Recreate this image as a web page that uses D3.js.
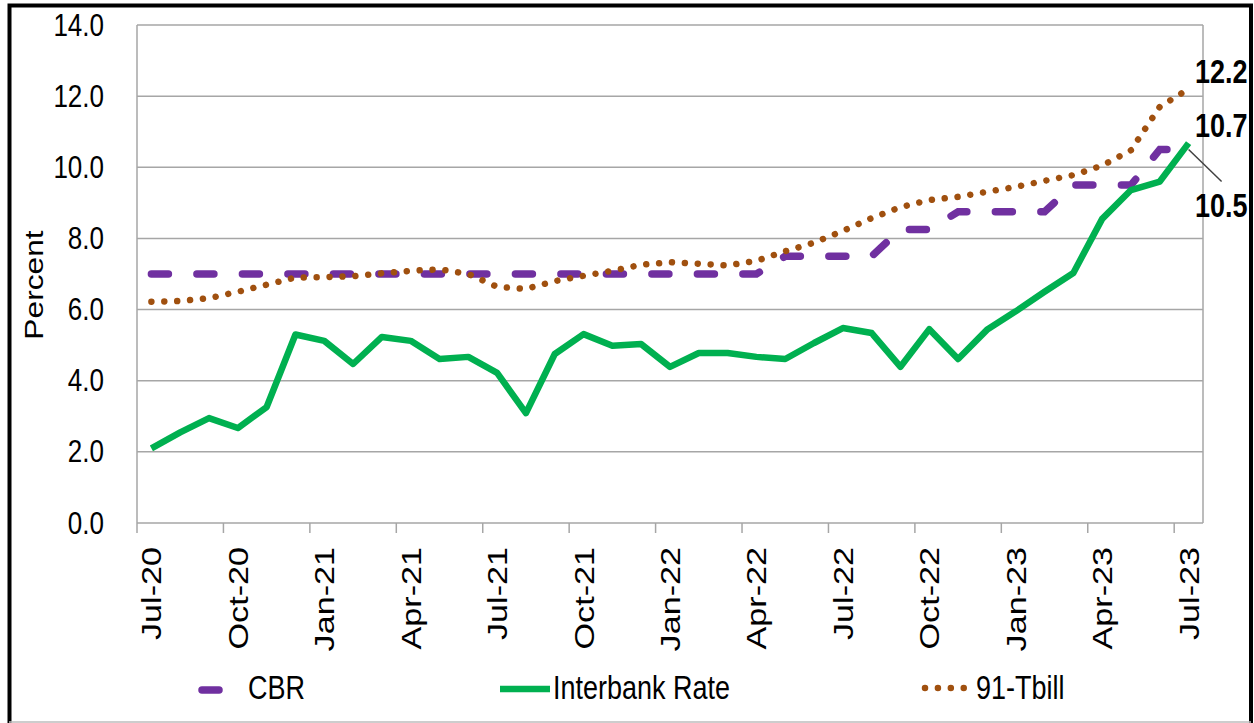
<!DOCTYPE html>
<html>
<head>
<meta charset="utf-8">
<script src="https://cdn.jsdelivr.net/npm/d3@7"></script>
<style>
  body { margin: 0; background: #fff; }
  svg { display: block; font-family: "Liberation Sans", Arial, sans-serif; }
</style>
</head>
<body>
<div id="chart"></div>
<script>
// months on the category axis (Jul-20 .. Jul-23)
var months = ["Jul-20","Aug-20","Sep-20","Oct-20","Nov-20","Dec-20",
  "Jan-21","Feb-21","Mar-21","Apr-21","May-21","Jun-21","Jul-21","Aug-21","Sep-21","Oct-21","Nov-21","Dec-21",
  "Jan-22","Feb-22","Mar-22","Apr-22","May-22","Jun-22","Jul-22","Aug-22","Sep-22","Oct-22","Nov-22","Dec-22",
  "Jan-23","Feb-23","Mar-23","Apr-23","May-23","Jun-23","Jul-23"];

// only every third month gets a label
var tickLabels = ["Jul-20","Oct-20","Jan-21","Apr-21","Jul-21","Oct-21","Jan-22","Apr-22","Jul-22","Oct-22","Jan-23","Apr-23","Jul-23"];

var yTicks = [0, 2, 4, 6, 8, 10, 12, 14];

var cbr = [7.0, 7.0, 7.0, 7.0, 7.0, 7.0, 7.0, 7.0, 7.0, 7.0, 7.0, 7.0, 7.0, 7.0, 7.0, 7.0, 7.0, 7.0,
  7.0, 7.0, 7.0, 7.0, 7.5, 7.5, 7.5, 7.5, 8.25, 8.25, 8.75, 8.75, 8.75, 8.75, 9.5, 9.5, 9.5, 10.5, 10.5];

var interbank = [2.1, 2.55, 2.95, 2.67, 3.26, 5.3, 5.12, 4.47, 5.23, 5.12, 4.61, 4.67, 4.22, 3.09, 4.75, 5.31, 4.98, 5.03,
  4.39, 4.78, 4.78, 4.67, 4.61, 5.06, 5.48, 5.34, 4.39, 5.45, 4.61, 5.43, 5.95, 6.5, 7.03, 8.55, 9.36, 9.6, 10.68];

var tbill = [6.22, 6.24, 6.32, 6.5, 6.7, 6.9, 6.91, 6.94, 7.02, 7.09, 7.13, 7.0, 6.64, 6.58, 6.8, 6.95, 7.09, 7.26,
  7.33, 7.29, 7.24, 7.37, 7.64, 7.88, 8.21, 8.57, 8.88, 9.08, 9.17, 9.31, 9.45, 9.62, 9.78, 10.05, 10.48, 11.7, 12.2];

var seriesNames = ["CBR", "Interbank Rate", "91-Tbill"];

var W = 1254, H = 723;
// the source picture is stretched vertically, so text gets the same stretch
var stretch = 1.22;

var plot = { left: 137, right: 1203, top: 25, bottom: 523 };

var x = d3.scaleBand().domain(months).range([plot.left, plot.right]);
var y = d3.scaleLinear().domain([0, 14]).range([plot.bottom, plot.top]);

function cx(d, i) { return x(months[i]) + x.bandwidth() / 2; }

var svg = d3.select("#chart").append("svg")
  .attr("width", W)
  .attr("height", H);

svg.append("rect").attr("width", W).attr("height", H).attr("fill", "#fff");

// outer frame
svg.append("path")
  .attr("d", "M9.5,740V5.5H1251V740")
  .attr("fill", "none")
  .attr("stroke", "#000")
  .attr("stroke-width", 4);
svg.append("line")
  .attr("x1", 9).attr("x2", 1251).attr("y1", 722).attr("y2", 722)
  .attr("stroke", "#bdbdbd").attr("stroke-width", 1.5);

// gridlines
svg.append("g").selectAll("line")
  .data(yTicks)
  .enter().append("line")
  .attr("x1", plot.left).attr("x2", plot.right)
  .attr("y1", function(d) { return y(d); })
  .attr("y2", function(d) { return y(d); })
  .attr("stroke", "#a6a6a6")
  .attr("stroke-width", 1.5);

// plot area sides
svg.append("line")
  .attr("x1", plot.left).attr("x2", plot.left).attr("y1", plot.top).attr("y2", plot.bottom)
  .attr("stroke", "#a6a6a6").attr("stroke-width", 1.5);
svg.append("line")
  .attr("x1", plot.right).attr("x2", plot.right).attr("y1", plot.top).attr("y2", plot.bottom)
  .attr("stroke", "#a6a6a6").attr("stroke-width", 1.5);

// y tick labels
svg.append("g").selectAll("text")
  .data(yTicks)
  .enter().append("text")
  .attr("transform", function(d) { return "translate(104," + (y(d) + 10.5) + ") scale(1," + stretch + ")"; })
  .attr("text-anchor", "end")
  .attr("font-size", 26)
  .attr("fill", "#000")
  .text(function(d) { return d3.format(".1f")(d); });

// y axis title
svg.append("text")
  .attr("transform", "translate(43,285) scale(1," + stretch + ") rotate(-90)")
  .attr("text-anchor", "middle")
  .attr("font-size", 26)
  .text("Percent");

// x tick marks at the start of each labelled quarter
svg.append("g").selectAll("line")
  .data(tickLabels)
  .enter().append("line")
  .attr("x1", function(d) { return x(d); })
  .attr("x2", function(d) { return x(d); })
  .attr("y1", plot.bottom).attr("y2", plot.bottom + 10)
  .attr("stroke", "#a6a6a6").attr("stroke-width", 1.5);

// x labels, rotated
svg.append("g").selectAll("text")
  .data(tickLabels)
  .enter().append("text")
  .attr("transform", function(d) {
    return "translate(" + (x(d) + x.bandwidth() / 2 + 10) + ",547) scale(1," + stretch + ") rotate(-90)";
  })
  .attr("text-anchor", "end")
  .attr("font-size", 28)
  .text(function(d) { return d; });

var line = d3.line()
  .x(cx)
  .y(function(d) { return y(d); });

// CBR - purple dashes
svg.append("path")
  .datum(cbr)
  .attr("d", line)
  .attr("fill", "none")
  .attr("stroke", "#7030a0")
  .attr("stroke-width", 7.5)
  .attr("stroke-linecap", "round")
  .attr("stroke-dasharray", "17,28.5");

// 91-day T-bill - brown dots
svg.append("path")
  .datum(tbill)
  .attr("d", line)
  .attr("fill", "none")
  .attr("stroke", "#a0500f")
  .attr("stroke-width", 6.5)
  .attr("stroke-linecap", "round")
  .attr("stroke-dasharray", "0.01,12.9");

// interbank - solid green
svg.append("path")
  .datum(interbank)
  .attr("d", line)
  .attr("fill", "none")
  .attr("stroke", "#00b050")
  .attr("stroke-width", 6.5)
  .attr("stroke-linejoin", "round");

// end labels
var last = months.length - 1;
var endX = cx(null, last);

svg.append("line")
  .attr("x1", endX).attr("y1", y(cbr[last]))
  .attr("x2", endX + 33).attr("y2", y(cbr[last]) + 32)
  .attr("stroke", "#404040").attr("stroke-width", 1.5);

var endLabels = [
  { v: tbill[last], by: 83 },
  { v: interbank[last], by: 137 },
  { v: cbr[last], by: 217 }
];
svg.append("g").selectAll("text")
  .data(endLabels)
  .enter().append("text")
  .attr("transform", function(d) { return "translate(1195," + d.by + ") scale(1," + stretch + ")"; })
  .attr("font-size", 27)
  .attr("font-weight", "bold")
  .text(function(d) { return d3.format(".1f")(d.v); });

// legend
var legend = svg.append("g");
var legendItems = [
  { name: seriesNames[0], x0: 202, x1: 219, ly: 690, color: "#7030a0", w: 7.5, cap: "round", dash: null, tx: 248 },
  { name: seriesNames[1], x0: 500, x1: 550, ly: 689, color: "#00b050", w: 6.5, cap: "butt", dash: null, tx: 553 },
  { name: seriesNames[2], x0: 925, x1: 968, ly: 688, color: "#a0500f", w: 6.5, cap: "round", dash: "0.01,12.9", tx: 976 }
];
legendItems.forEach(function(item) {
  legend.append("line")
    .attr("x1", item.x0).attr("x2", item.x1)
    .attr("y1", item.ly).attr("y2", item.ly)
    .attr("stroke", item.color)
    .attr("stroke-width", item.w)
    .attr("stroke-linecap", item.cap)
    .attr("stroke-dasharray", item.dash);
  legend.append("text")
    .attr("transform", "translate(" + item.tx + ",699) scale(1," + stretch + ")")
    .attr("font-size", 27)
    .text(item.name);
});
</script>
</body>
</html>
